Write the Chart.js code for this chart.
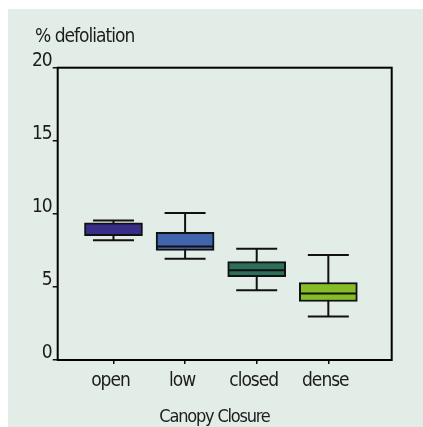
<!DOCTYPE html>
<html>
<head>
<meta charset="utf-8">
<script src="https://cdn.jsdelivr.net/npm/chart.js@4"></script>
<style>
  html, body { margin: 0; padding: 0; background: #ffffff; }
  canvas { display: block; }
</style>
</head>
<body>
<canvas id="c" width="423" height="427"></canvas>
<script>
// Canopy closure classes and the five-number summary of % defoliation for each
const categories = ['open', 'low', 'closed', 'dense'];
const whiskerLow  = [8.2, 6.92, 4.77, 2.97];
const quartile1   = [8.5, 7.49, 5.71, 4.0];
const medians     = [8.55, 7.76, 6.14, 4.55];
const quartile3   = [9.38, 8.74, 6.73, 5.3];
const whiskerHigh = [9.54, 10.05, 7.62, 7.19];
const boxColors   = ['#382d87', '#4264ad', '#2b6e5a', '#86bc25'];
const yTicks      = [0, 5, 10, 15, 20];

const FONT = "'DejaVu Sans Condensed', 'DejaVu Sans', sans-serif";
const INK = '#1c1c1c';
const TRACKING = '-1px';

// Category positions on the linear x scale: 1..n
const positions = categories.map((_, i) => i + 1);

// Whisker stems go behind the boxes; caps and medians on top
const boxPlotPlugin = {
  id: 'boxPlot',
  beforeDraw(chart) {
    const ctx = chart.ctx;
    ctx.save();
    ctx.fillStyle = '#ffffff';
    ctx.fillRect(0, 0, chart.width, chart.height);
    ctx.fillStyle = '#e3ede8';
    ctx.fillRect(8, 9, chart.width - 8, chart.height - 9);
    ctx.restore();
    // tighter tracking for every label drawn on this canvas
    ctx.letterSpacing = TRACKING;
  },
  beforeDatasetsDraw(chart) {
    const {ctx, scales: {x, y}} = chart;
    ctx.save();
    ctx.strokeStyle = '#111';
    ctx.lineWidth = 2;
    positions.forEach((p, i) => {
      const px = x.getPixelForValue(p);
      ctx.beginPath();
      ctx.moveTo(px, y.getPixelForValue(whiskerLow[i]));
      ctx.lineTo(px, y.getPixelForValue(whiskerHigh[i]));
      ctx.stroke();
    });
    ctx.restore();
  },
  afterDatasetsDraw(chart) {
    const {ctx, scales: {x, y}, chartArea} = chart;
    const capHalf = 20.5;
    const boxHalf = 28;
    ctx.save();
    ctx.strokeStyle = '#111';
    ctx.lineWidth = 2;
    positions.forEach((p, i) => {
      const px = x.getPixelForValue(p);
      [whiskerLow[i], whiskerHigh[i]].forEach(v => {
        const py = y.getPixelForValue(v);
        ctx.beginPath();
        ctx.moveTo(px - capHalf, py);
        ctx.lineTo(px + capHalf, py);
        ctx.stroke();
      });
      const my = y.getPixelForValue(medians[i]);
      ctx.beginPath();
      ctx.moveTo(px - boxHalf, my);
      ctx.lineTo(px + boxHalf, my);
      ctx.stroke();
    });
    // plot frame
    ctx.strokeStyle = '#000';
    ctx.lineWidth = 2;
    ctx.strokeRect(chartArea.left, chartArea.top,
      chartArea.right - chartArea.left, chartArea.bottom - chartArea.top);
    ctx.restore();
  },
  afterDraw(chart) {
    const ctx = chart.ctx;
    ctx.save();
    ctx.fillStyle = INK;
    ctx.textBaseline = 'alphabetic';
    ctx.letterSpacing = TRACKING;
    ctx.font = '19px ' + FONT;
    ctx.textAlign = 'left';
    ctx.fillText('% defoliation', 35, 41.7);
    ctx.letterSpacing = '-1.2px';
    ctx.font = '18px ' + FONT;
    ctx.textAlign = 'center';
    ctx.fillText('Canopy Closure', 214.5, 421.7);
    ctx.restore();
  }
};

new Chart(document.getElementById('c'), {
  type: 'bar',
  data: {
    datasets: [{
      data: positions.map((p, i) => ({x: p, y: [quartile1[i], quartile3[i]]})),
      backgroundColor: boxColors,
      borderColor: '#111',
      borderWidth: 2,
      borderSkipped: false,
      barThickness: 58
    }]
  },
  options: {
    responsive: false,
    animation: false,
    events: [],
    layout: { padding: { left: 0, top: 67.7, right: 31.3, bottom: 0 } },
    plugins: { legend: { display: false }, tooltip: { enabled: false } },
    scales: {
      x: {
        type: 'linear',
        offset: false,
        min: 0.221,
        max: 4.885,
        afterBuildTicks(scale) { scale.ticks = positions.map(v => ({value: v})); },
        afterFit(scale) { scale.height = 67; },
        border: { display: false },
        grid: { offset: false, drawOnChartArea: false, drawTicks: true, tickLength: 4, color: '#111', lineWidth: 1.5 },
        ticks: {
          color: INK,
          font: { family: FONT, size: 19 },
          padding: 6,
          labelOffset: -3,
          maxRotation: 0,
          callback: v => categories[v - 1]
        }
      },
      y: {
        min: 0,
        max: 20,
        afterBuildTicks(scale) { scale.ticks = yTicks.map(v => ({value: v})); },
        afterFit(scale) { scale.width = 57.7; },
        border: { display: false },
        grid: { drawOnChartArea: false, drawTicks: true, tickLength: 5, color: '#111', lineWidth: 1.5 },
        ticks: {
          color: INK,
          font: { family: FONT, size: 19 },
          padding: 1,
          labelOffset: -7
        }
      }
    }
  },
  plugins: [boxPlotPlugin]
});
</script>
</body>
</html>
